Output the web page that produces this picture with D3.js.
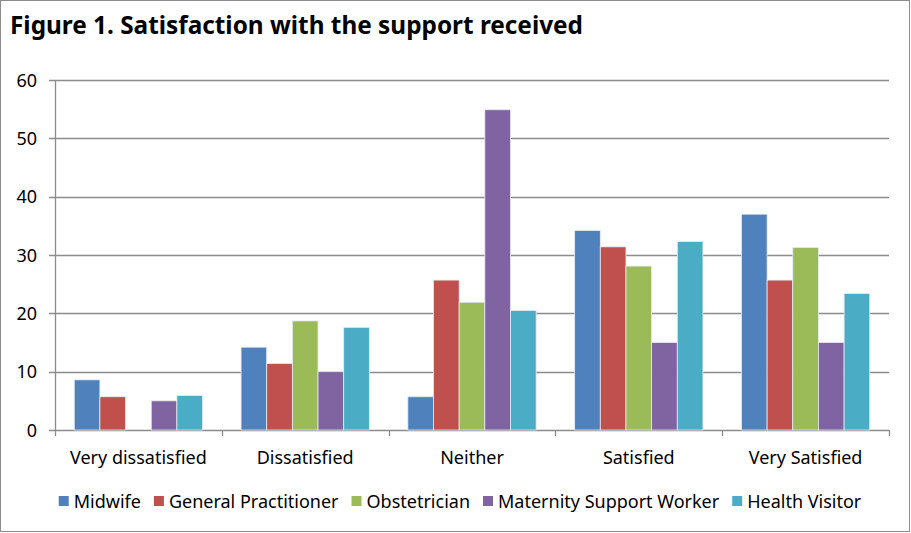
<!DOCTYPE html>
<html>
<head>
<meta charset="utf-8">
<script src="https://cdn.jsdelivr.net/npm/d3@7"></script>
<style>
  body { margin: 0; background: #fff; }
  text { font-family: "Noto Sans", "Open Sans", sans-serif; fill: #000; }
</style>
</head>
<body>
<div id="plot"></div>
<script>
// Chart data
var categories = ["Very dissatisfied", "Dissatisfied", "Neither", "Satisfied", "Very Satisfied"];
var seriesNames = ["Midwife", "General Practitioner", "Obstetrician", "Maternity Support Worker", "Health Visitor"];
var colors = ["#4F81BD", "#C0504D", "#9BBB59", "#8064A2", "#4BACC6"];
var midwife = [8.6, 14.2, 5.7, 34.2, 37.0];
var generalPractitioner = [5.7, 11.4, 25.7, 31.4, 25.7];
var obstetrician = [0, 18.7, 21.9, 28.1, 31.3];
var maternitySupport = [5.0, 10.0, 54.9, 15.0, 15.0];
var healthVisitor = [5.9, 17.6, 20.5, 32.3, 23.4];
var yTicks = [0, 10, 20, 30, 40, 50, 60];

var seriesValues = [midwife, generalPractitioner, obstetrician, maternitySupport, healthVisitor];

var svgWidth = 911;
var svgHeight = 533;
var chartMargin = { top: 80, right: 22, bottom: 103, left: 55 };
var chartWidth = svgWidth - chartMargin.left - chartMargin.right;
var chartHeight = svgHeight - chartMargin.top - chartMargin.bottom;
var labelSize = 18;

var svg = d3.select("#plot")
  .append("svg")
  .attr("width", svgWidth)
  .attr("height", svgHeight);

// outer frame
svg.append("rect")
  .attr("x", 0.5).attr("y", 0.5)
  .attr("width", svgWidth - 2).attr("height", svgHeight - 2)
  .attr("fill", "none")
  .attr("stroke", "#8c8c8c");

// title
svg.append("text")
  .attr("x", 10)
  .attr("y", 34)
  .attr("font-size", 25)
  .attr("font-weight", "bold")
  .attr("textLength", 573)
  .attr("lengthAdjust", "spacingAndGlyphs")
  .text("Figure 1. Satisfaction with the support received");

var chartGroup = svg.append("g")
  .attr("transform", `translate(${chartMargin.left}, ${chartMargin.top})`);

var xBandScale = d3.scaleBand()
  .domain(categories)
  .range([0, chartWidth])
  .padding(0);

// Excel gap width 150%: five bars of width w plus 1.5w gap per category
var bw = xBandScale.bandwidth() / 6.5;
var xInner = d3.scaleBand()
  .domain(seriesNames)
  .range([0.75 * bw, xBandScale.bandwidth() - 0.75 * bw])
  .padding(0);

var yLinearScale = d3.scaleLinear()
  .domain([0, 60])
  .range([chartHeight, 0]);

// gridlines
chartGroup.selectAll(".grid")
  .data(yTicks)
  .enter()
  .append("line")
  .attr("x1", -6)
  .attr("x2", chartWidth)
  .attr("y1", d => Math.round(yLinearScale(d)) + 0.5)
  .attr("y2", d => Math.round(yLinearScale(d)) + 0.5)
  .attr("stroke", "#8c8c8c")
  .attr("stroke-width", 1.3);

// y axis line
chartGroup.append("line")
  .attr("x1", 0.5).attr("x2", 0.5)
  .attr("y1", 0).attr("y2", chartHeight)
  .attr("stroke", "#8c8c8c")
  .attr("stroke-width", 1.3);

// y tick labels
chartGroup.selectAll(".ylab")
  .data(yTicks)
  .enter()
  .append("text")
  .attr("x", -18)
  .attr("y", d => yLinearScale(d) + 6.5)
  .attr("text-anchor", "end")
  .attr("font-size", labelSize)
  .text(d => d);

// x tick marks at category boundaries
var boundaries = categories.map(c => xBandScale(c)).concat([chartWidth]);
chartGroup.selectAll(".xtick")
  .data(boundaries)
  .enter()
  .append("line")
  .attr("x1", d => Math.round(d) + 0.5)
  .attr("x2", d => Math.round(d) + 0.5)
  .attr("y1", chartHeight)
  .attr("y2", chartHeight + 6)
  .attr("stroke", "#8c8c8c")
  .attr("stroke-width", 1.3);

// x labels
chartGroup.selectAll(".xlab")
  .data(categories)
  .enter()
  .append("text")
  .attr("x", d => xBandScale(d) + xBandScale.bandwidth() / 2)
  .attr("y", chartHeight + 34)
  .attr("text-anchor", "middle")
  .attr("font-size", labelSize)
  .text(d => d);

// bars
seriesNames.forEach(function(name, si) {
  chartGroup.selectAll(".bar" + si)
    .data(seriesValues[si].map((v, i) => ({ cat: categories[i], value: v })))
    .enter()
    .append("rect")
    .filter(d => d.value > 0)
    .attr("x", d => xBandScale(d.cat) + xInner(name))
    .attr("y", d => yLinearScale(d.value))
    .attr("width", xInner.bandwidth())
    .attr("height", d => chartHeight - yLinearScale(d.value))
    .attr("fill", colors[si])
    .attr("stroke", "#e8ecf4")
    .attr("stroke-width", 0.8);
});

// legend
var legend = svg.append("g");
var lx = 0;
seriesNames.forEach(function(name, si) {
  var item = legend.append("g").attr("transform", `translate(${lx}, 0)`);
  item.append("rect")
    .attr("x", 0).attr("y", -12)
    .attr("width", 10).attr("height", 10)
    .attr("fill", colors[si]);
  var t = item.append("text")
    .attr("x", 15)
    .attr("y", 0)
    .attr("font-size", labelSize)
    .text(name);
  lx += 15 + t.node().getComputedTextLength() + 13;
});
lx -= 13;
legend.attr("transform", `translate(${460 - lx / 2}, 508)`);
</script>
</body>
</html>
